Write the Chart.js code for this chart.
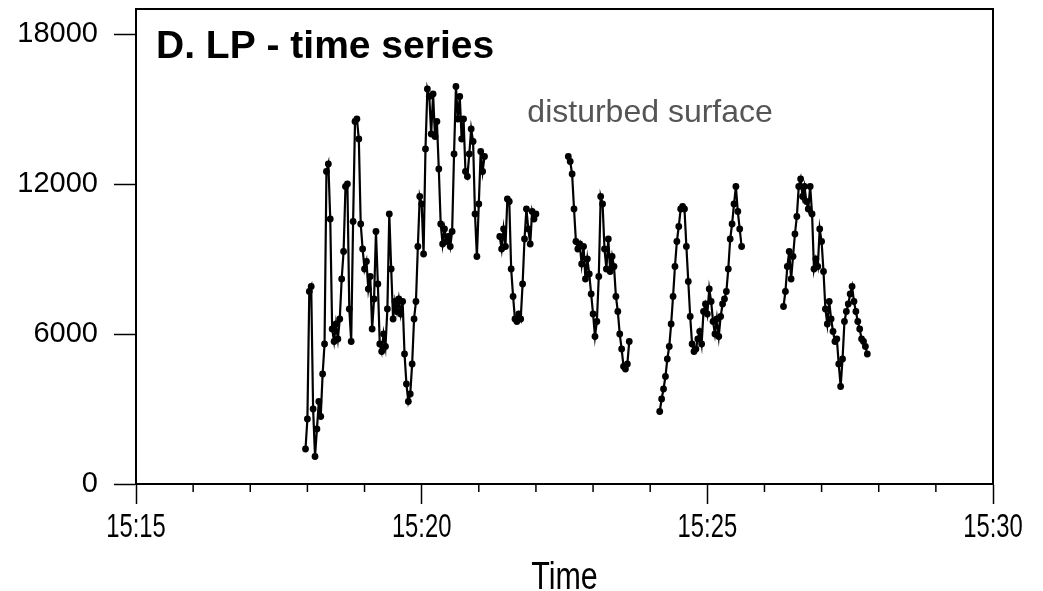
<!DOCTYPE html>
<html>
<head>
<meta charset="utf-8">
<script src="https://cdn.jsdelivr.net/npm/chart.js@4.4.0/dist/chart.umd.min.js"></script>
<style>
  html, body { margin: 0; padding: 0; background: #fff; }
  #wrap { width: 1043px; height: 591px; }
</style>
</head>
<body>
<div id="wrap"><canvas id="lpChart"></canvas></div>
<script>
// LP readings, one value every 2 s, five separate runs
const timesA = [
  '15:17:58',
  '15:18:00','15:18:02','15:18:04','15:18:06','15:18:08','15:18:10','15:18:12','15:18:14','15:18:16','15:18:18',
  '15:18:20','15:18:22','15:18:24','15:18:26','15:18:28','15:18:30','15:18:32','15:18:34','15:18:36','15:18:38',
  '15:18:40','15:18:42','15:18:44','15:18:46','15:18:48','15:18:50','15:18:52','15:18:54','15:18:56','15:18:58',
  '15:19:00','15:19:02','15:19:04','15:19:06','15:19:08','15:19:10','15:19:12','15:19:14','15:19:16','15:19:18',
  '15:19:20','15:19:22','15:19:24','15:19:26','15:19:28','15:19:30','15:19:32','15:19:34','15:19:36','15:19:38',
  '15:19:40','15:19:42','15:19:44','15:19:46','15:19:48','15:19:50','15:19:52','15:19:54','15:19:56','15:19:58',
  '15:20:00','15:20:02','15:20:04','15:20:06','15:20:08','15:20:10','15:20:12','15:20:14','15:20:16','15:20:18',
  '15:20:20','15:20:22','15:20:24','15:20:26','15:20:28','15:20:30','15:20:32','15:20:34','15:20:36','15:20:38',
  '15:20:40','15:20:42','15:20:44','15:20:46','15:20:48','15:20:50','15:20:52','15:20:54','15:20:56','15:20:58',
  '15:21:00','15:21:02','15:21:04','15:21:06'
];
const valuesA = [
  1400, 2600, 7700, 7900, 3000, 1100, 2200, 3300, 2700, 4400,
  5600, 12500, 12800, 10600, 6200, 5700, 6400, 5800, 6600, 8200,
  9300, 11900, 12000, 7000, 5700, 10500, 14500, 14600, 13800, 10400,
  9400, 8600, 8900, 7800, 8300, 6200, 7400, 10100, 8000, 5600,
  5300, 6000, 5500, 7000, 10800, 8600, 6600, 7300, 6900, 7400,
  6800, 7300, 5200, 4000, 3300, 3600, 4800, 6600, 7300, 9500,
  11500, 11200, 9200, 13400, 15800, 15500, 14000, 15600, 13900, 14500,
  12600, 10400, 9600, 10200, 9700, 9900, 9500, 10100, 13200, 15900,
  14600, 15500, 13800, 14600, 12500, 12300, 13200, 14200, 13700, 10800,
  9100, 11200, 13300, 12500, 13100
];

const timesB = [
  '15:21:22','15:21:24','15:21:26','15:21:28','15:21:30','15:21:32','15:21:34','15:21:36','15:21:38','15:21:40',
  '15:21:42','15:21:44','15:21:46','15:21:48','15:21:50','15:21:52','15:21:54','15:21:56','15:21:58','15:22:00'
];
const valuesB = [
  9900, 9400, 10200, 9500, 11400, 11300, 8600, 7500, 6600, 6500,
  6800, 6600, 8000, 9800, 11000, 10200, 9600, 10900, 10600, 10800
];

const timesC = [
  '15:22:34','15:22:36','15:22:38','15:22:40','15:22:42','15:22:44','15:22:46','15:22:48','15:22:50','15:22:52',
  '15:22:54','15:22:56','15:22:58','15:23:00','15:23:02','15:23:04','15:23:06','15:23:08','15:23:10','15:23:12',
  '15:23:14','15:23:16','15:23:18','15:23:20','15:23:22','15:23:24','15:23:26','15:23:28','15:23:30','15:23:32',
  '15:23:34','15:23:36','15:23:38'
];
const valuesC = [
  13100, 12900, 12400, 11000, 9700, 9400, 9600, 8800, 9500, 8200,
  9000, 8400, 7600, 6800, 5900, 6500, 8300, 11500, 11200, 9400,
  8600, 9800, 8500, 9100, 8700, 7500, 6900, 6000, 5400, 4700,
  4600, 4800, 5700
];

const timesD = [
  '15:24:10','15:24:12','15:24:14','15:24:16','15:24:18','15:24:20','15:24:22','15:24:24','15:24:26','15:24:28',
  '15:24:30','15:24:32','15:24:34','15:24:36','15:24:38','15:24:40','15:24:42','15:24:44','15:24:46','15:24:48',
  '15:24:50','15:24:52','15:24:54','15:24:56','15:24:58','15:25:00','15:25:02','15:25:04','15:25:06','15:25:08',
  '15:25:10','15:25:12','15:25:14','15:25:16','15:25:18','15:25:20','15:25:22','15:25:24','15:25:26','15:25:28',
  '15:25:30','15:25:32','15:25:34','15:25:36'
];
const valuesD = [
  2900, 3400, 3800, 4300, 5000, 5500, 6400, 7500, 8700, 9700,
  10300, 11000, 11100, 11000, 9500, 8100, 6700, 5600, 5300, 5400,
  5800, 6100, 5600, 6900, 7200, 6800, 7800, 7300, 6500, 6000,
  6600, 5900, 6700, 7200, 7400, 7700, 8600, 9800, 10400, 11200,
  11900, 10900, 10200, 9500
];

const timesE = [
  '15:26:20','15:26:22','15:26:24','15:26:26','15:26:28','15:26:30','15:26:32','15:26:34','15:26:36','15:26:38',
  '15:26:40','15:26:42','15:26:44','15:26:46','15:26:48','15:26:50','15:26:52','15:26:54','15:26:56','15:26:58',
  '15:27:00','15:27:02','15:27:04','15:27:06','15:27:08','15:27:10','15:27:12','15:27:14','15:27:16','15:27:18',
  '15:27:20','15:27:22','15:27:24','15:27:26','15:27:28','15:27:30','15:27:32','15:27:34','15:27:36','15:27:38',
  '15:27:40','15:27:42','15:27:44','15:27:46','15:27:48'
];
const valuesE = [
  7100, 7700, 8700, 9300, 8200, 9100, 10000, 10700, 11900, 12200,
  11500, 11900, 11300, 11000, 11900, 10800, 8600, 9000, 8700, 10200,
  9700, 8500, 7000, 6400, 7300, 6600, 6100, 5700, 5800, 4800,
  3900, 5000, 6500, 6900, 7200, 7600, 7900, 7300, 6900, 6500,
  6200, 5800, 5700, 5500, 5200
];

const xTickLabels = ['15:15', '15:20', '15:25', '15:30'];
const yTickValues = [0, 6000, 12000, 18000];
const chartTitle = 'D. LP - time series';
const noteText = 'disturbed surface';
const xAxisTitle = 'Time';

// minutes after 15:00
function toMinutes(t) {
  const [h, m, s = 0] = t.split(':').map(Number);
  return (h - 15) * 60 + m + s / 60;
}

function buildPoints() {
  const runs = [[timesA, valuesA], [timesB, valuesB], [timesC, valuesC], [timesD, valuesD], [timesE, valuesE]];
  const pts = [];
  runs.forEach(([ts, vs], k) => {
    if (k > 0) pts.push({ x: toMinutes(ts[0]), y: null }); // break the line between runs
    ts.forEach((t, i) => pts.push({ x: toMinutes(t), y: vs[i] }));
  });
  return pts;
}

const sans = '"Liberation Sans", Arial, sans-serif';

// text squeezed sideways, like the tall narrow lettering on the time axis
function narrowText(ctx, text, cx, baseline, size, squeeze) {
  ctx.save();
  ctx.translate(cx, baseline);
  ctx.scale(squeeze, 1);
  ctx.font = size + 'px ' + sans;
  ctx.textAlign = 'center';
  ctx.textBaseline = 'alphabetic';
  ctx.fillText(text, 0, 0);
  ctx.restore();
}

const framePlugin = {
  id: 'frame',
  afterDraw(chart) {
    const { ctx, chartArea: a, scales: { x, y } } = chart;
    ctx.save();
    ctx.strokeStyle = '#000';
    ctx.lineWidth = 2;
    ctx.beginPath();
    ctx.moveTo(a.left, a.bottom);
    ctx.lineTo(a.left, a.top);
    ctx.lineTo(a.right, a.top);
    ctx.lineTo(a.right, a.bottom);
    ctx.stroke();

    // short ticks for every minute
    ctx.lineWidth = 1.5;
    for (let m = Math.ceil(x.min); m <= x.max; m++) {
      if (m % 5 === 0) continue;
      const px = x.getPixelForValue(m);
      ctx.beginPath();
      ctx.moveTo(px, a.bottom);
      ctx.lineTo(px, a.bottom + 8);
      ctx.stroke();
    }

    // time labels and axis title
    ctx.fillStyle = '#000';
    x.ticks.forEach((tk, i) => {
      narrowText(ctx, xTickLabels[i], x.getPixelForValue(tk.value), a.bottom + 53, 34, 0.7);
    });
    narrowText(ctx, xAxisTitle, (a.left + a.right) / 2, a.bottom + 105, 39, 0.78);

    ctx.textAlign = 'left';
    ctx.textBaseline = 'alphabetic';
    ctx.font = 'bold 39px ' + sans;
    ctx.fillText(chartTitle, a.left + 20, a.top + 49);

    ctx.fillStyle = '#555';
    ctx.font = '32px ' + sans;
    ctx.fillText(noteText, x.getPixelForValue(toMinutes('15:21:51')), y.getPixelForValue(14500));
    ctx.restore();
  }
};

new Chart(document.getElementById('lpChart'), {
  type: 'line',
  data: {
    datasets: [{
      data: buildPoints(),
      borderColor: '#000',
      borderWidth: 2.2,
      pointRadius: 3.4,
      pointBackgroundColor: '#000',
      pointBorderColor: '#000',
      pointBorderWidth: 0,
      spanGaps: false,
      tension: 0
    }]
  },
  options: {
    responsive: true,
    maintainAspectRatio: false,
    animation: false,
    layout: { padding: { top: 9, right: 50, left: 0, bottom: 0 } },
    plugins: { legend: { display: false }, tooltip: { enabled: false } },
    scales: {
      x: {
        type: 'linear',
        min: toMinutes(xTickLabels[0]),
        max: toMinutes(xTickLabels[xTickLabels.length - 1]),
        afterBuildTicks: s => { s.ticks = xTickLabels.map(t => ({ value: toMinutes(t) })); },
        afterFit: s => { s.height = 107; s.paddingLeft = 0; s.paddingRight = 0; },
        ticks: { display: false },
        grid: { drawOnChartArea: false, tickLength: 20, tickColor: '#000', tickWidth: 1.5 },
        border: { color: '#000', width: 2 }
      },
      y: {
        min: 0,
        max: 19000,
        afterBuildTicks: s => { s.ticks = yTickValues.map(v => ({ value: v })); },
        afterFit: s => { s.width = 136; s.paddingTop = 0; s.paddingBottom = 0; },
        ticks: {
          callback: v => String(v),
          font: { family: sans, size: 29 },
          color: '#000',
          padding: 16
        },
        grid: { drawOnChartArea: false, tickLength: 22, tickColor: '#000', tickWidth: 1.5 },
        border: { color: '#000', width: 2 }
      }
    }
  },
  plugins: [framePlugin]
});
</script>
</body>
</html>
